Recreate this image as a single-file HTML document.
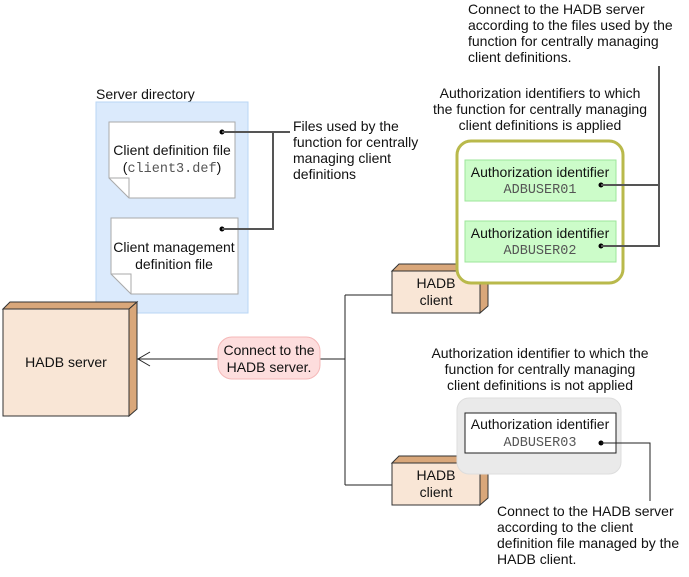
<!DOCTYPE html>
<html><head><meta charset="utf-8"><style>
body{margin:0;background:#fff}
text{font-family:"Liberation Sans",sans-serif;font-size:14px;fill:#111}
.m{font-family:"Liberation Mono",monospace;fill:#555;font-size:13.5px}
</style></head><body>
<svg width="689" height="572" viewBox="0 0 689 572" xmlns="http://www.w3.org/2000/svg">
<text x="96" y="99">Server directory</text>
<rect x="96" y="102" width="152" height="211" fill="#dbeafc" stroke="#b8d6f5"/>
<path d="M109,122H235V198H129L109,178Z" fill="#fff" stroke="#aaa"/>
<path d="M109,178H129V198" fill="none" stroke="#aaa"/>
<text x="172" y="155" text-anchor="middle">Client definition file</text>
<text x="172" y="172" text-anchor="middle">(<tspan class="m">client3.def</tspan>)</text>
<path d="M111,218H238V294H131L111,274Z" fill="#fff" stroke="#aaa"/>
<path d="M111,274H131V294" fill="none" stroke="#aaa"/>
<text x="174" y="252" text-anchor="middle">Client management</text>
<text x="174" y="269" text-anchor="middle">definition file</text>
<circle cx="222" cy="132" r="2.5" fill="#000"/><circle cx="222" cy="229" r="2.5" fill="#000"/>
<path d="M222,132H273V229H222M273,132H290" fill="none" stroke="#555" stroke-width="2"/>
<text x="293" y="131">Files used by the</text>
<text x="293" y="147">function for centrally</text>
<text x="293" y="163">managing client</text>
<text x="293" y="179">definitions</text>

<path d="M3,309L10,302H137L129,309Z" fill="#d9a77a" stroke="#333"/>
<path d="M129,309L137,302V409L129,416Z" fill="#d9a77a" stroke="#333"/>
<rect x="3" y="309" width="126" height="107" fill="#f9e6d6" stroke="#333"/>
<text x="66" y="367" text-anchor="middle">HADB server</text>

<path d="M137,359H345M345,295V485M345,295H392M345,485H392" fill="none" stroke="#222"/>
<path d="M150,352L138,359L150,366" fill="none" stroke="#222"/>
<rect x="218" y="337" width="102" height="42" rx="14" fill="#fddddd" stroke="#f5b8b8"/>
<text x="269" y="355" text-anchor="middle">Connect to the</text>
<text x="269" y="372" text-anchor="middle">HADB server.</text>

<g>
<path d="M392,271L399,264H488L480,271Z" fill="#d9a77a" stroke="#333"/>
<path d="M480,271L488,264V306L480,313Z" fill="#d9a77a" stroke="#333"/>
<rect x="392" y="271" width="88" height="42" fill="#f9e6d6" stroke="#333"/>
<text x="436" y="288" text-anchor="middle">HADB</text><text x="436" y="305" text-anchor="middle">client</text>
</g>
<g>
<path d="M392,463L399,456H488L480,463Z" fill="#d9a77a" stroke="#333"/>
<path d="M480,463L488,456V498L480,505Z" fill="#d9a77a" stroke="#333"/>
<rect x="392" y="463" width="88" height="42" fill="#f9e6d6" stroke="#333"/>
<text x="436" y="480" text-anchor="middle">HADB</text><text x="436" y="497" text-anchor="middle">client</text>
</g>

<text x="468" y="14">Connect to the HADB server</text>
<text x="468" y="30">according to the files used by the</text>
<text x="468" y="46">function for centrally managing</text>
<text x="468" y="62">client definitions.</text>
<text x="540" y="98" text-anchor="middle">Authorization identifiers to which</text>
<text x="540" y="114" text-anchor="middle">the function for centrally managing</text>
<text x="540" y="130" text-anchor="middle">client definitions is applied</text>
<rect x="457" y="141" width="166" height="142" rx="14" fill="#fff" stroke="#b9b94b" stroke-width="3"/>
<rect x="465" y="160" width="151" height="41" fill="#ccfcc9" stroke="#9ce69a"/>
<text x="540" y="177" text-anchor="middle">Authorization identifier</text>
<text x="540" y="193" text-anchor="middle" class="m">ADBUSER01</text>
<rect x="465" y="221" width="151" height="41" fill="#ccfcc9" stroke="#9ce69a"/>
<text x="540" y="238" text-anchor="middle">Authorization identifier</text>
<text x="540" y="254" text-anchor="middle" class="m">ADBUSER02</text>
<circle cx="601" cy="185" r="2.5" fill="#000"/><circle cx="601" cy="246" r="2.5" fill="#000"/>
<path d="M601,185H659M601,246H659V66" fill="none" stroke="#555" stroke-width="2"/>

<text x="540" y="358" text-anchor="middle">Authorization identifier to which the</text>
<text x="540" y="374" text-anchor="middle">function for centrally managing</text>
<text x="540" y="390" text-anchor="middle">client definitions is not applied</text>
<rect x="457" y="398" width="164" height="76" rx="12" fill="#eaeaea" stroke="#ddd"/>
<rect x="465" y="413" width="151" height="40" fill="#fff" stroke="#222"/>
<text x="540" y="429" text-anchor="middle">Authorization identifier</text>
<text x="540" y="446" text-anchor="middle" class="m">ADBUSER03</text>
<circle cx="601" cy="443" r="2.5" fill="#000"/>
<path d="M601,443H650V501" fill="none" stroke="#222"/>
<text x="497" y="516">Connect to the HADB server</text>
<text x="497" y="532">according to the client</text>
<text x="497" y="548">definition file managed by the</text>
<text x="497" y="564">HADB client.</text>
</svg>
</body></html>
